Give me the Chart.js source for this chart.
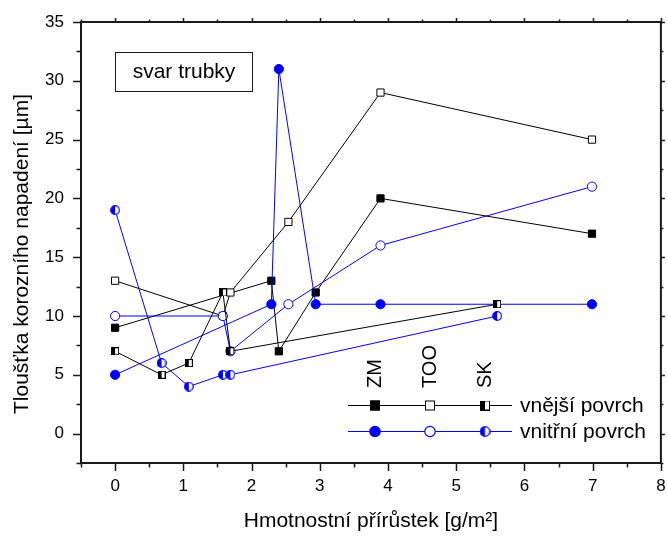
<!DOCTYPE html>
<html>
<head>
<meta charset="utf-8">
<title>svar trubky</title>
<script src="https://cdn.jsdelivr.net/npm/chart.js"></script>
<style>
    html, body { margin: 0; padding: 0; background: #fff; }
    #chart { display: block; }
</style>
</head>
<body>
<canvas id="chart" width="667" height="536"></canvas>
<script>
// Data
const zmX = [0, 2.29, 2.4, 2.94, 3.89, 6.99]
const zmOuter = [9, 13, 7, 12, 20, 17]
const zmInner = [5, 11, 31, 11, 11, 11]

const tooX = [0, 1.58, 1.69, 2.54, 3.89, 6.99]
const tooOuter = [13, 10, 12, 18, 29, 25]
const tooInner = [10, 10, 7, 11, 16, 21]

const skX = [0, 0.68, 1.08, 1.58, 1.69, 5.6]
const skOuter = [7, 5, 6, 12, 7, 11]
const skInner = [19, 6, 4, 5, 5, 10]

const materials = ['ZM', 'TOO', 'SK']
const surfaces = ['vnější povrch', 'vnitřní povrch']
const xTicks = [0, 1, 2, 3, 4, 5, 6, 7, 8]
const yTicks = [0, 5, 10, 15, 20, 25, 30, 35]

const FONT = '"Liberation Sans", Arial, sans-serif'
const BLUE = '#0000ff'
const DARK = '#1a1a1a'

const pts = (xs, ys) => xs.map((x, i) => ({ x: x, y: ys[i] }))

// half filled markers (SK)
function halfSquare(size) {
    const c = document.createElement('canvas')
    c.width = size
    c.height = size
    const g = c.getContext('2d')
    g.fillStyle = '#fff'
    g.fillRect(0, 0, size, size)
    g.fillStyle = '#000'
    g.fillRect(0, 0, Math.ceil(size / 2), size)
    g.strokeStyle = '#000'
    g.lineWidth = 1
    g.strokeRect(0.5, 0.5, size - 1, size - 1)
    return c
}

function halfCircle(size, color) {
    const c = document.createElement('canvas')
    c.width = size
    c.height = size
    const g = c.getContext('2d')
    const r = size / 2
    g.beginPath()
    g.arc(r, r, r - 0.7, 0, Math.PI * 2)
    g.fillStyle = '#fff'
    g.fill()
    g.beginPath()
    g.arc(r, r, r - 0.7, Math.PI / 2, Math.PI * 3 / 2)
    g.closePath()
    g.fillStyle = color
    g.fill()
    g.beginPath()
    g.arc(r, r, r - 0.7, 0, Math.PI * 2)
    g.strokeStyle = color
    g.lineWidth = 1.2
    g.stroke()
    return c
}

const skSquare = halfSquare(8)
const skCircle = halfCircle(10, BLUE)
const skSquareBig = halfSquare(10)
const skCircleBig = halfCircle(11, BLUE)

function series(label, xs, ys, color, style, fill, radius) {
    return {
        label: label,
        data: pts(xs, ys),
        showLine: true,
        borderColor: color,
        borderWidth: 1,
        pointStyle: style,
        pointRadius: radius,
        pointHoverRadius: radius,
        pointBackgroundColor: fill,
        pointBorderColor: color,
        pointBorderWidth: 1
    }
}

// small markers for the legend
function drawMarker(ctx, kind, x, y, color) {
    ctx.save()
    ctx.lineWidth = 1
    ctx.strokeStyle = color
    if (kind === 'sq' || kind === 'osq') {
        ctx.fillStyle = kind === 'sq' ? color : '#fff'
        ctx.fillRect(x - 5, y - 5, 10, 10)
        ctx.strokeRect(x - 4.5, y - 4.5, 9, 9)
    } else if (kind === 'hsq') {
        ctx.drawImage(skSquareBig, x - 5, y - 5)
    } else if (kind === 'ci' || kind === 'oci') {
        ctx.beginPath()
        ctx.arc(x, y, 5.2, 0, Math.PI * 2)
        ctx.fillStyle = kind === 'ci' ? color : '#fff'
        ctx.fill()
        ctx.lineWidth = 1.2
        ctx.stroke()
    } else if (kind === 'hci') {
        ctx.drawImage(skCircleBig, x - 5.5, y - 5.5)
    }
    ctx.restore()
}

const isWhole = (v, step) => Math.abs(v / step - Math.round(v / step)) < 1e-6

// frame, ticks, label box, legend and y title
const decor = {
    id: 'decor',
    beforeDatasetsDraw(chart) {
        const ctx = chart.ctx
        const a = chart.chartArea
        const xs = chart.scales.x
        const ys = chart.scales.y
        ctx.save()
        ctx.strokeStyle = DARK
        ctx.lineWidth = 1.5
        xs.ticks.forEach(t => {
            const px = Math.round(xs.getPixelForValue(t.value)) + 0.5
            const major = isWhole(t.value, 1)
            ctx.beginPath()
            ctx.moveTo(px, a.bottom)
            ctx.lineTo(px, a.bottom + (major ? 8 : 4.5))
            ctx.moveTo(px, a.top)
            ctx.lineTo(px, a.top - (major ? 4 : 2.5))
            ctx.stroke()
        })
        ys.ticks.forEach(t => {
            const py = Math.round(ys.getPixelForValue(t.value)) + 0.5
            const major = isWhole(t.value, 5)
            ctx.beginPath()
            ctx.moveTo(a.left, py)
            ctx.lineTo(a.left - (major ? 8 : 4.5), py)
            ctx.moveTo(a.right, py)
            ctx.lineTo(a.right + (major ? 4 : 2.5), py)
            ctx.stroke()
        })
        ctx.lineWidth = 2
        ctx.strokeRect(a.left, a.top, a.right - a.left, a.bottom - a.top)
        ctx.restore()
    },
    afterDraw(chart) {
        const ctx = chart.ctx
        ctx.save()

        // label box
        ctx.strokeStyle = DARK
        ctx.lineWidth = 1
        ctx.strokeRect(115.5, 52.5, 137, 39)
        ctx.fillStyle = '#000'
        ctx.font = '21px ' + FONT
        ctx.textAlign = 'center'
        ctx.textBaseline = 'middle'
        ctx.fillText('svar trubky', 184, 72)

        // y axis title
        ctx.save()
        ctx.translate(22, 254)
        ctx.rotate(-Math.PI / 2)
        ctx.fillText('Tloušťka korozního napadení [µm]', 0, 0)
        ctx.restore()

        // legend
        const cols = [375, 430, 485]
        const rows = [405.5, 431.5]
        const kinds = [['sq', 'osq', 'hsq'], ['ci', 'oci', 'hci']]
        const colors = ['#000', BLUE]
        ctx.font = '20px ' + FONT
        ctx.textAlign = 'left'
        materials.forEach((m, i) => {
            ctx.save()
            ctx.translate(cols[i], 388)
            ctx.rotate(-Math.PI / 2)
            ctx.fillText(m, 0, 0)
            ctx.restore()
        })
        surfaces.forEach((s, r) => {
            ctx.strokeStyle = colors[r]
            ctx.lineWidth = 1
            ctx.beginPath()
            ctx.moveTo(348, rows[r])
            ctx.lineTo(512, rows[r])
            ctx.stroke()
            cols.forEach((cx, i) => drawMarker(ctx, kinds[r][i], cx, rows[r], colors[r]))
            ctx.fillStyle = '#000'
            ctx.font = '21px ' + FONT
            ctx.fillText(s, 520, rows[r] + 1)
        })
        ctx.restore()
    }
}

new Chart(document.getElementById('chart'), {
    type: 'scatter',
    data: {
        // first in list is drawn on top
        datasets: [
            series('SK vnitřní', skX, skInner, BLUE, skCircle, BLUE, 4.5),
            series('SK vnější', skX, skOuter, '#000', skSquare, '#000', 4),
            series('TOO vnitřní', tooX, tooInner, BLUE, 'circle', '#fff', 4.6),
            series('TOO vnější', tooX, tooOuter, '#000', 'rect', '#fff', 5.1),
            series('ZM vnitřní', zmX, zmInner, BLUE, 'circle', BLUE, 4.6),
            series('ZM vnější', zmX, zmOuter, '#000', 'rect', '#000', 5.1)
        ]
    },
    options: {
        responsive: false,
        animation: false,
        devicePixelRatio: 1,
        layout: { padding: { top: 22, right: 5, left: 0, bottom: 0 } },
        plugins: {
            legend: { display: false },
            tooltip: { enabled: false }
        },
        scales: {
            x: {
                type: 'linear',
                min: -0.5,
                max: 8,
                afterFit: (s) => {
                    s.height = 73
                    s.paddingLeft = 0
                    s.paddingRight = 0
                },
                border: { display: false },
                grid: { display: false, tickLength: 8 },
                ticks: {
                    stepSize: 0.5,
                    padding: 5,
                    color: '#000',
                    font: { family: FONT, size: 17 },
                    autoSkip: false,
                    maxRotation: 0,
                    callback: (v) => xTicks.includes(v) ? String(v) : ''
                },
                title: {
                    display: true,
                    text: 'Hmotnostní přírůstek [g/m²]',
                    color: '#000',
                    font: { family: FONT, size: 21 },
                    padding: { top: 0, bottom: 2 }
                }
            },
            y: {
                type: 'linear',
                min: -2.5,
                max: 35,
                afterFit: (s) => {
                    s.width = 81
                    s.paddingTop = 0
                    s.paddingBottom = 0
                },
                border: { display: false },
                grid: { display: false, tickLength: 8 },
                ticks: {
                    stepSize: 2.5,
                    padding: 9,
                    color: '#000',
                    font: { family: FONT, size: 17 },
                    autoSkip: false,
                    callback: (v) => yTicks.includes(v) ? String(v) : ''
                }
            }
        }
    },
    plugins: [decor]
})
</script>
</body>
</html>
